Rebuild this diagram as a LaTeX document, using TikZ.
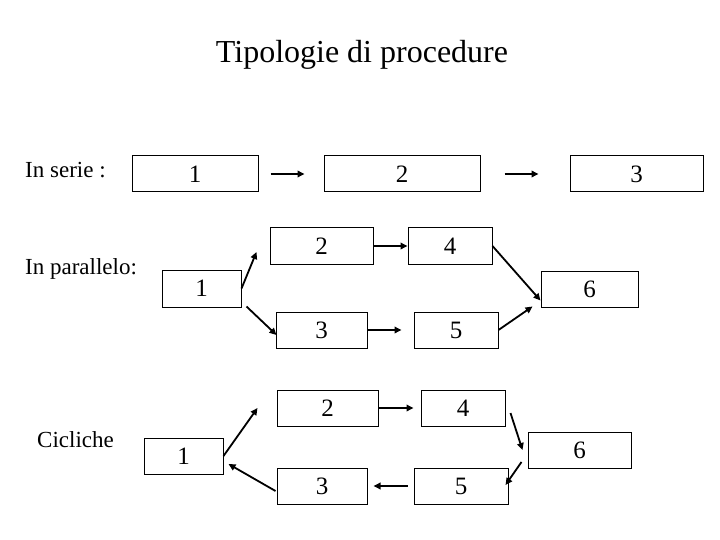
\documentclass[tikz,border=0pt]{standalone}
\usepackage{fontspec}
\setmainfont{Liberation Serif}
\usetikzlibrary{arrows.meta,calc}
\tikzset{
  box/.style={draw=black,line width=1pt,rectangle,inner sep=0pt,minimum height=36pt,
    font=\fontsize{25}{28}\selectfont},
  arr/.style={line width=1.8pt,-{Triangle[length=7pt,width=6.5pt]}},
  lbl/.style={anchor=base west,inner sep=0pt,font=\fontsize{23}{27}\selectfont},
}
\begin{document}
\begin{tikzpicture}[x=1pt,y=-1pt]
\useasboundingbox (0,0) rectangle (720,540);
\node[anchor=base,inner sep=0pt,font=\fontsize{32}{36}\selectfont] (title) at (362,63) {Tipologie di procedure};
% labels
\node[lbl] (lserie) at (25,178) {In serie :};
\node[lbl] (lpar) at (25,274) {In parallelo:};
\node[lbl] (lcic) at (37,447) {Cicliche};
% serie
\node[box,minimum width=126pt] (s1) at (195,174) {1};
\node[box,minimum width=156pt] (s2) at (402,174) {2};
\node[box,minimum width=133pt] (s3) at (636.5,174) {3};
\draw[arr,shorten <=12pt,shorten >=19pt] (s1.east) -- (s2.west);
\draw[arr,shorten <=24pt,shorten >=31pt] (s2.east) -- (s3.west);
% parallelo
\node[box,minimum width=79pt,minimum height=37pt] (p1) at (201.5,288.5) {1};
\node[box,minimum width=103pt] (p2) at (321.5,246) {2};
\node[box,minimum width=84pt] (p4) at (450,246) {4};
\node[box,minimum width=97pt] (p6) at (589.5,289) {6};
\node[box,minimum width=91pt] (p3) at (321.5,330) {3};
\node[box,minimum width=84pt] (p5) at (456,330) {5};
\draw[arr] (p1.east) -- ($(p2.west)+(-13,6)$);
\draw[arr] (p2.east) -- (p4.west);
\draw[arr] (p4.east) -- ($(p6.south west)+(0,-7)$);
\draw[arr] ($(p1.south east)+(5,-1)$) -- ($(p3.west)+(1,5)$);
\draw[arr,shorten >=12pt] (p3.east) -- (p5.west);
\draw[arr] (p5.east) -- ($(p6.south west)+(-8,-1)$);
% cicliche
\node[box,minimum width=79pt] (c1) at (183.5,456) {1};
\node[box,minimum width=101pt] (c2) at (327.5,408) {2};
\node[box,minimum width=84pt] (c4) at (463,408) {4};
\node[box,minimum width=103pt] (c6) at (579.5,450) {6};
\node[box,minimum width=90pt] (c3) at (322,486) {3};
\node[box,minimum width=94pt] (c5) at (461,486) {5};
\draw[arr] (c1.east) -- ($(c2.west)+(-19,0)$);
\draw[arr,shorten >=7pt] (c2.east) -- (c4.west);
\draw[arr] ($(c4.east)+(5,5)$) -- ($(c6.west)+(-5,0)$);
\draw[arr] ($(c6.west)+(-6,12)$) -- ($(c5.east)+(-3,-1)$);
\draw[arr,shorten <=6pt,shorten >=6pt] (c5.west) -- (c3.east);
\draw[arr] ($(c3.west)+(-1,5)$) -- ($(c1.east)+(5,8)$);
\end{tikzpicture}
\end{document}
